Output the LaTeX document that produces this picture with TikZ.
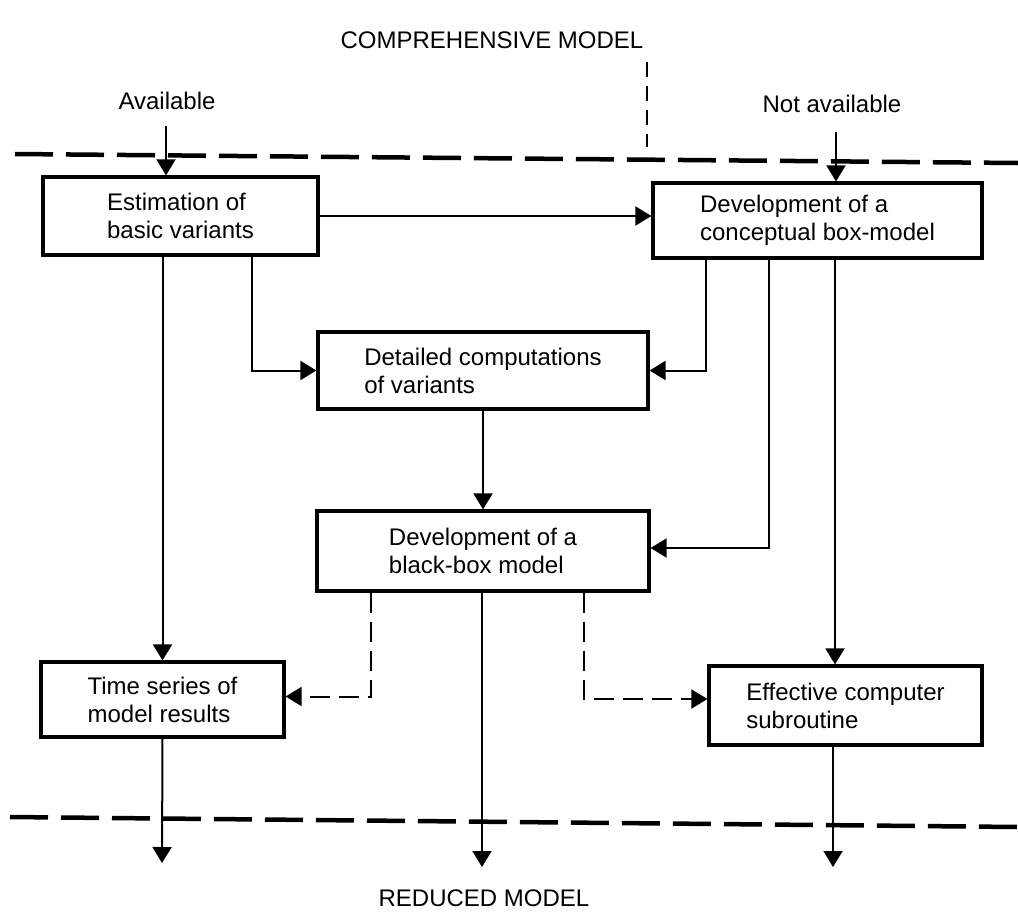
\documentclass[tikz,border=0pt]{standalone}
\usepackage{fontspec}
\setmainfont{Liberation Sans}
\usetikzlibrary{arrows.meta}
\begin{document}
\begin{tikzpicture}[x=1pt,y=-1pt,
  font=\fontsize{24}{28}\selectfont,
  box/.style={draw, line width=3.2pt, align=left, inner sep=0pt},
  flow/.style={line width=2pt, -{Triangle[length=16pt,width=19pt]}},
  alt/.style={flow, dash pattern=on 20pt off 9pt},
  border/.style={line width=4.5pt, dash pattern=on 38pt off 13pt},
  divide/.style={line width=2pt, dash pattern=on 15pt off 9pt}]
\useasboundingbox (0,0) rectangle (1018,911);

% headings and inputs
\node (title)   at (492,40)  {COMPREHENSIVE MODEL};
\node (avail)   at (167,101) {Available};
\node (navail)  at (832,104) {Not available};
\node (reduced) at (484,898) {REDUCED MODEL};

% boundaries of the comprehensive and reduced model
\draw[divide] (647,62) -- (647,147);
\draw[border] (15,154) -- (1018,163);
\draw[border] (10,817) -- (1018,827);

% processing stages
\node[box, minimum width=275pt, minimum height=78pt] (b1) at (180.5,216)
  {Estimation of\\basic variants};
\node[box, minimum width=329pt, minimum height=75pt] (b2) at (817.5,220.5)
  {Development of a\\conceptual box-model};
\node[box, minimum width=330pt, minimum height=77pt] (b3) at (483,370.5)
  {Detailed computations\\of variants};
\node[box, minimum width=332pt, minimum height=80pt] (b4) at (483,551)
  {Development of a\\black-box model};
\node[box, minimum width=243pt, minimum height=75pt] (b5) at (162.5,699.5)
  {Time series of\\model results};
\node[box, minimum width=273pt, minimum height=79pt] (b6) at (845.5,705.5)
  {Effective computer\\subroutine};

% free ends of the connectors
\coordinate (availtail) at (166,126);
\coordinate (navailtail) at (836,132);
\coordinate (out1) at (162,863);
\coordinate (out2) at (482,867);
\coordinate (out3) at (833,867);

% connectors
\draw[flow] (availtail) -- (availtail |- b1.north);
\draw[flow] (navailtail) -- (navailtail |- b2.north);
\draw[flow] (b1.east) -- (b1.east -| b2.west);
\draw[flow] (b1.south -| b5.north) -- (b5.north);
\draw[flow] (b1.south -| 252,0) |- (b3.west);
\draw[flow] (b2.south -| 706,0) |- (b3.east);
\draw[flow] (b2.south -| 769,0) |- ([yshift=3pt]b4.east);
\draw[flow] (b2.south -| 835,0) -- (b6.north -| 835,0);
\draw[flow] (b3.south) -- (b4.north);
\draw[alt] (b4.south -| 371,0) |- ([yshift=3pt]b5.east);
\draw[alt] (b4.south -| 584,0) |- ([yshift=6.5pt]b6.west);
\draw[flow] (b5.south) -- (out1);
\draw[flow] (b4.south -| out2) -- (out2);
\draw[flow] (b6.south -| out3) -- (out3);
\end{tikzpicture}
\end{document}
